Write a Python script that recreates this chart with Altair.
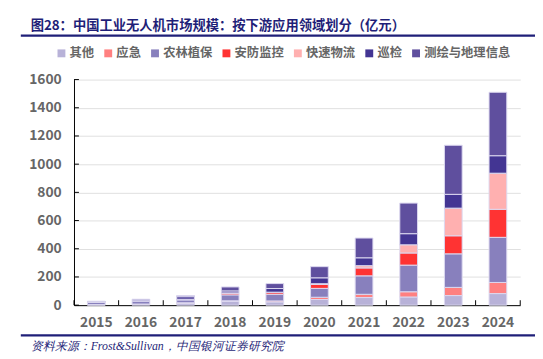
import altair as alt
import pandas as pd

years = ["2015", "2016", "2017", "2018", "2019", "2020", "2021", "2022", "2023", "2024"]
series = ["其他", "应急", "农林植保", "安防监控", "快速物流", "巡检", "测绘与地理信息"]
other = [3, 6, 12, 26, 23, 40, 54, 58, 68, 82]
emergency = [1, 2, 5, 5, 7, 16, 23, 37, 58, 79]
agri = [17, 18, 20, 42, 47, 63, 131, 189, 238, 320]
security = [0.5, 1, 3, 12, 12, 28, 56, 86, 128, 199]
logistics = [0.5, 1, 2, 2, 3, 5, 16, 58, 196, 256]
patrol = [2, 8, 18, 14, 26, 42, 56, 79, 98, 124]
mapping = [4, 6, 8, 28, 35, 79, 140, 217, 348, 450]
colors = ["#b8b2d8", "#ff8080", "#8880bd", "#ff3333", "#ffb0b0", "#433593", "#5f4f9e"]
y_ticks = [0, 200, 400, 600, 800, 1000, 1200, 1400, 1600]

title_text = "图28：中国工业无人机市场规模：按下游应用领域划分（亿元）"
source_text = "资料来源：Frost&Sullivan，中国银河证券研究院"

values = [other, emergency, agri, security, logistics, patrol, mapping]
rows = []
for i, (name, vals) in enumerate(zip(series, values)):
    for yr, v in zip(years, vals):
        rows.append({"year": yr, "series": name, "value": v, "idx": i})
df = pd.DataFrame(rows)

W, H = 453, 229
CJK = "Noto Sans CJK SC"
NAVY = "#1f1f78"

x_axis = alt.Axis(title=None, labelAngle=0, labelFont=CJK, labelFontSize=14,
                  labelFontWeight="bold", labelColor="#666666", labelPadding=11,
                  ticks=False, domainColor="#000000", domainWidth=1, grid=False)
y_axis = alt.Axis(title=None, values=y_ticks, format="d", ticks=False, labelPadding=13,
                  labelFont=CJK, labelFontSize=14, labelFontWeight="bold",
                  labelColor="#666666", gridColor="#e0e0e0", gridWidth=1,
                  domainColor="#000000", domainWidth=1)
x_scale = alt.Scale(domain=years, paddingInner=0, paddingOuter=0)
y_scale = alt.Scale(domain=[0, 1600], nice=False)

bars = alt.Chart(df).mark_bar(size=18, stroke="#dcd8f0", strokeWidth=1).encode(
    x=alt.X("year:N", sort=years, scale=x_scale, axis=x_axis),
    y=alt.Y("value:Q", stack="zero", scale=y_scale, axis=y_axis),
    color=alt.Color("series:N", sort=series,
                    scale=alt.Scale(domain=series, range=colors),
                    legend=alt.Legend(orient="none", legendX=-19, legendY=-33,
                                      direction="horizontal", columns=7, title=None,
                                      symbolType="square", symbolSize=64,
                                      symbolStrokeWidth=0, labelFont=CJK,
                                      labelFontSize=12.5, labelFontWeight="bold",
                                      labelColor="#666666", columnPadding=7.5,
                                      labelOffset=2, padding=0)),
    order=alt.Order("idx:Q", sort="ascending"),
)

xticks = alt.Chart(pd.DataFrame({"year": years})).mark_rule(color="#000000", strokeWidth=1).encode(
    x=alt.X("year:N", sort=years, scale=x_scale, axis=x_axis, bandPosition=0),
    y=alt.value(H), y2=alt.value(H - 5),
)
xtick_end = alt.Chart(pd.DataFrame({"a": [0]})).mark_rule(color="#000000", strokeWidth=1).encode(
    x=alt.value(W), y=alt.value(H), y2=alt.value(H - 5),
)
yticks = alt.Chart(pd.DataFrame({"value": y_ticks})).mark_rule(color="#000000", strokeWidth=1).encode(
    y=alt.Y("value:Q", scale=y_scale, axis=y_axis),
    x=alt.value(0), x2=alt.value(5),
)

one = pd.DataFrame({"a": [0]})
title = alt.Chart(one).mark_text(align="left", baseline="middle", font=CJK, fontSize=13.5,
                                 fontWeight="bold", color=NAVY, text=title_text).encode(
    x=alt.value(-44), y=alt.value(-54))
top_rule = alt.Chart(one).mark_rule(color=NAVY, strokeWidth=2.2).encode(
    x=alt.value(-54), x2=alt.value(480), y=alt.value(-44.7))
bottom_rule = alt.Chart(one).mark_rule(color=NAVY, strokeWidth=2.2).encode(
    x=alt.value(-54), x2=alt.value(480), y=alt.value(259.7))
source = alt.Chart(one).mark_text(align="left", baseline="middle", font="Liberation Serif",
                                  fontSize=12, fontStyle="italic", color=NAVY,
                                  text=source_text).encode(
    x=alt.value(-44), y=alt.value(271))

chart = alt.layer(bars, xticks, xtick_end, yticks, title, top_rule, bottom_rule, source).properties(
    width=W, height=H,
    padding={"left": 67, "top": 70, "right": 15, "bottom": 52},
    autosize=alt.AutoSizeParams(type="none"),
    background="white",
).configure_view(stroke=None)

chart.save("out.html", embed_options={"renderer": "svg", "actions": False})
